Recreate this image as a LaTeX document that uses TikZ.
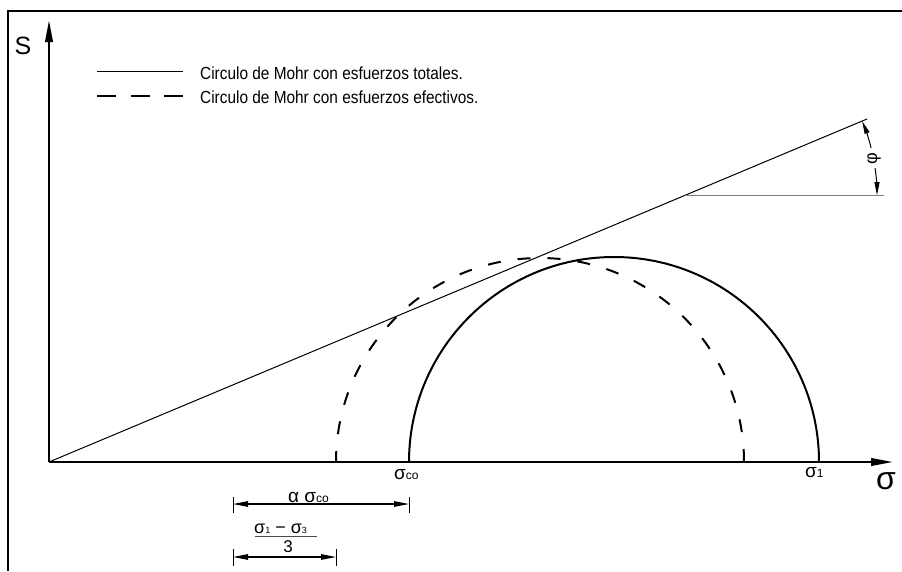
\documentclass[tikz,border=0pt]{standalone}
\usepackage{fontspec}
\setmainfont{Liberation Sans}
\newfontfamily\legendfont{Liberation Sans}[FakeStretch=0.88]
\usetikzlibrary{arrows.meta}
\begin{document}
\begin{tikzpicture}[x=1pt,y=-1pt,
  frame/.style={line width=2.6pt},
  axis/.style={line width=2.2pt,-{Triangle[length=22pt,width=7.5pt]}},
  envelope/.style={line width=1pt},
  total/.style={line width=2pt},
  eff/.style={line width=2pt,dash pattern=on 13pt off 17pt},
  dimline/.style={line width=1.1pt,{Triangle[length=15pt,width=5.5pt]}-{Triangle[length=15pt,width=5.5pt]}},
  angarrow/.style={line width=1pt,-{Triangle[length=13pt,width=5pt]}},
  dimtick/.style={line width=0.9pt},
  lbl/.style={inner sep=0pt},
  legendtxt/.style={lbl,anchor=west,font=\legendfont\fontsize{17.5}{19}\selectfont},
]
\useasboundingbox (0,0) rectangle (902,571);
% frame
\draw[frame] (8,571) -- (8,11) -- (902,11);
% axes
\coordinate (O) at (49,462);
\coordinate (Stip) at (49,20);
\coordinate (Xtip) at (893,462);
\draw[axis] (O) -- (Stip);
\draw[axis] (O) -- (Xtip);
\node[lbl,font=\fontsize{25}{25}\selectfont] (S) at (23,46) {S};
\node[lbl,font=\fontsize{32}{32}\selectfont] (sig) at (886,481) {σ};
% legend
\coordinate (L1a) at (97,71.5); \coordinate (L1b) at (183,71.5);
\coordinate (L2a) at (97,96); \coordinate (L2b) at (183,96);
\draw[line width=1.5pt] (L1a) -- (L1b);
\draw[line width=1.8pt,dash pattern=on 19pt off 14.5pt] (L2a) -- (L2b);
\node[legendtxt] (T1) at (200,73) {Circulo de Mohr con esfuerzos totales.};
\node[legendtxt] (T2) at (200,97) {Circulo de Mohr con esfuerzos efectivos.};
% failure envelope
\coordinate (E) at (867,119);
\draw[envelope] (O) -- (E);
\coordinate (H0) at (685,195.2);
\coordinate (H1) at (884,195.2);
\draw[gray,line width=1.2pt] (H0) -- (H1);
% angle phi
\draw[angarrow] ([shift={(-14.2:192)}]H0) arc[start angle=-14.2,end angle=-22.7,radius=192];
\draw[angarrow] ([shift={(-8.1:192)}]H0) arc[start angle=-8.1,end angle=0,radius=192];
\node[lbl,rotate=90,font=\fontsize{18}{18}\selectfont] (phi) at (874,159) {φ};
% Mohr circles
\coordinate (sco) at (409,462);
\coordinate (s1) at (819,462);
\coordinate (e1) at (744,462);
\draw[total] (s1) arc[start angle=0,end angle=-180,radius=205];
\draw[eff] (e1) arc[start angle=0,end angle=-180,radius=204];
% axis labels
\node[lbl,anchor=base west] (lsco) at (394,479) {\fontsize{19}{19}\selectfont σ\fontsize{12}{12}\selectfont co};
\node[lbl,anchor=base west] (ls1) at (805,477) {\fontsize{19}{19}\selectfont σ\fontsize{12}{12}\selectfont 1};
% dimension alpha sigma_co
\coordinate (D1a) at (233,504); \coordinate (D1b) at (409,504);
\draw[dimline] (D1a) -- (D1b);
\draw[dimtick] (233,497) -- (233,513);
\draw[dimtick] (409,497) -- (409,513);
\node[lbl,anchor=base west] (lalpha) at (288,502) {\fontsize{19}{19}\selectfont α σ\fontsize{12}{12}\selectfont co};
% dimension (s1-s3)/3
\coordinate (D2a) at (233,557); \coordinate (D2b) at (336,557);
\draw[dimline] (D2a) -- (D2b);
\draw[dimtick] (233,549) -- (233,566);
\draw[dimtick] (336,549) -- (336,566);
\node[lbl,anchor=base west] (num) at (254,533) {\fontsize{18}{18}\selectfont σ\fontsize{9}{9}\selectfont 1\fontsize{18}{18}\selectfont\ − σ\fontsize{9}{9}\selectfont 3};
\draw[gray!60!black,line width=1.2pt] (255,536.5) -- (317,536.5);
\node[lbl,font=\fontsize{17}{17}\selectfont] (den) at (288,546.5) {3};
\end{tikzpicture}
\end{document}
